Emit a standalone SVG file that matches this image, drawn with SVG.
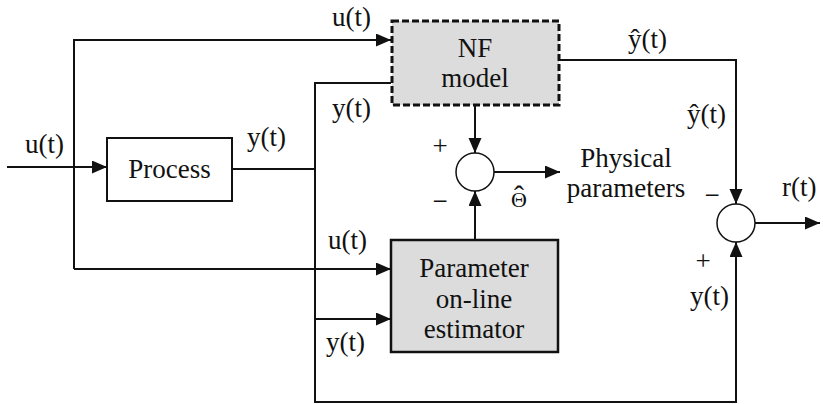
<svg xmlns="http://www.w3.org/2000/svg" width="823" height="404" viewBox="0 0 823 404">
<style>
text{font-family:'Liberation Serif','DejaVu Serif',serif;font-size:27px;fill:#111}
.c{text-anchor:middle}
.ln{fill:none;stroke:#111;stroke-width:2}
.arr{marker-end:url(#ah)}
.sum{fill:#fff;stroke:#111;stroke-width:1.5}
</style>
<defs>
<marker id="ah" markerUnits="userSpaceOnUse" markerWidth="16" markerHeight="14" refX="15" refY="6.5" orient="auto">
<path d="M0,0 L15,6.5 L0,13 z" fill="#111"/>
</marker>
</defs>
<g id="connectors">
<path class="ln arr" d="M7,167 H107"/>
<path class="ln arr" d="M74,269 V40 H391"/>
<path class="ln arr" d="M74,269 H391"/>
<path class="ln" d="M232,169 H315"/>
<path class="ln arr" d="M391,83 H315 V402 H736 V242"/>
<path class="ln arr" d="M315,319 H391"/>
<path class="ln arr" d="M559,60 H736 V204"/>
<path class="ln arr" d="M475,105 V153"/>
<path class="ln arr" d="M475,240 V191"/>
<path class="ln arr" d="M494,172 H560"/>
<path class="ln arr" d="M755,223 H820"/>
</g>
<g id="process">
<rect x="107" y="138" width="125" height="63" fill="#fff" stroke="#111" stroke-width="2"/>
<text class="c" x="169.5" y="178">Process</text>
</g>
<g id="nf-model">
<rect x="392" y="21" width="167" height="84" fill="#dcdcdc" stroke="#111" stroke-width="3" stroke-dasharray="7 3"/>
<text class="c" x="475" y="57">NF</text>
<text class="c" x="475" y="87">model</text>
</g>
<g id="estimator">
<rect x="391" y="240" width="167" height="112" fill="#dcdcdc" stroke="#111" stroke-width="2.5"/>
<text class="c" x="474" y="277">Parameter</text>
<text class="c" x="474" y="308">on-line</text>
<text class="c" x="474" y="338">estimator</text>
</g>
<g id="sum1">
<circle class="sum" cx="475" cy="172" r="19"/>
</g>
<g id="sum2">
<circle class="sum" cx="736" cy="223" r="19"/>
</g>
<g id="labels">
<text x="25" y="153">u(t)</text>
<text x="247" y="146">y(t)</text>
<text x="332" y="26">u(t)</text>
<text x="332" y="117">y(t)</text>
<text x="628" y="48">ŷ(t)</text>
<text x="687" y="123">ŷ(t)</text>
<text class="c" x="440" y="155">+</text>
<text class="c" x="440" y="210">−</text>
<text x="511" y="207" style="font-size:22px">Θ<tspan dx="-13" dy="-1" style="font-size:30px">ˆ</tspan></text>
<text class="c" x="626" y="167">Physical</text>
<text class="c" x="626" y="197">parameters</text>
<text x="782" y="196">r(t)</text>
<text class="c" x="712" y="204">−</text>
<text class="c" x="703" y="270">+</text>
<text x="690" y="305">y(t)</text>
<text x="328" y="249">u(t)</text>
<text x="326" y="351">y(t)</text>
</g>
</svg>
